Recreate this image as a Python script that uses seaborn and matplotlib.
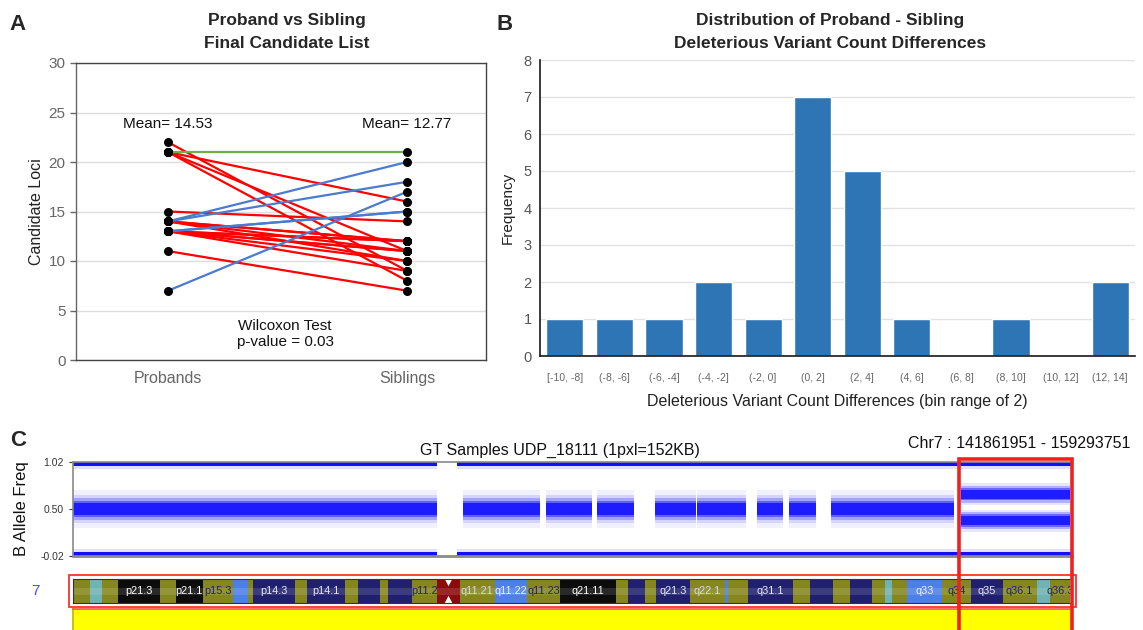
import numpy as np
import pandas as pd
import matplotlib
matplotlib.use("Agg")
import matplotlib.pyplot as plt
import seaborn as sns
from matplotlib.patches import Rectangle
from matplotlib.transforms import blended_transform_factory

# ---------------- data ----------------
# Panel A: proband vs sibling candidate loci (paired)
proband_counts = [22, 21, 21, 21, 21, 15, 14, 14, 14, 14, 14, 14,
                  13, 13, 13, 13, 13, 13, 13, 13, 11, 7]
sibling_counts = [9, 8, 11, 16, 21, 14, 20, 18, 12, 12, 11, 10,
                  15, 15, 12, 12, 11, 11, 10, 9, 7, 17]
group_labels = ["Probands", "Siblings"]
mean_labels = ["Mean= 14.53", "Mean= 12.77"]

# Panel B: histogram of differences
bin_labels = ["[-10, -8]", "(-8, -6]", "(-6, -4]", "(-4, -2]", "(-2, 0]", "(0, 2]",
              "(2, 4]", "(4, 6]", "(6, 8]", "(8, 10]", "(10, 12]", "(12, 14]"]
bin_counts = [1, 1, 1, 2, 1, 7, 5, 1, 0, 1, 0, 2]

# Panel C: B allele frequency tracks on chr7 (Mb)
chrom_len = 159.35
hom_starts = [0.0, 61.3]
hom_ends = [58.0, 159.3]
het_starts = [0.0, 62.2, 75.4, 83.6, 92.8, 99.5, 109.1, 114.2, 120.9]
het_ends = [58.0, 74.5, 82.8, 89.5, 99.3, 107.3, 113.2, 118.5, 140.6]
het_level = 0.5
split_start, split_end = 141.6, 159.1
split_levels = [0.665, 0.37]
region_start, region_end = 141.861951, 159.293751

# chr7 ideogram bands
band_starts = [0.0, 2.7, 4.6, 7.2, 13.9, 16.4, 20.7, 25.5, 27.9, 28.7, 35.4, 37.3, 43.4,
               45.4, 49.0, 50.2, 54.1, 58.0, 61.7, 67.3, 72.4, 77.7, 86.6, 88.5, 91.2,
               93.0, 98.4, 104.0, 104.4, 107.6, 114.8, 117.5, 121.2, 123.9, 127.4, 129.5,
               130.6, 133.0, 138.6, 143.3, 148.3, 153.7, 155.8]
band_ends = band_starts[1:] + [159.0]
band_stains = ["ol", "te", "ol", "bk", "ol", "bk", "ol", "lb", "ol", "nv", "ol", "nv", "ol",
               "nv", "ol", "nv", "ol", "ac", "ol", "lb", "ol", "bk", "ol", "nv", "ol",
               "nv", "ol", "lb", "ol", "nv", "ol", "nv", "ol", "nv", "ol", "te",
               "ol", "lb", "ol", "nv", "ol", "te", "ol"]
band_names = ["", "", "", "p21.3", "", "p21.1", "p15.3", "", "", "p14.3", "", "p14.1", "",
              "", "", "", "p11.2", "", "q11.21", "q11.22", "q11.23", "q21.11", "", "", "",
              "q21.3", "q22.1", "", "", "q31.1", "", "", "", "", "", "",
              "", "q33", "q34", "q35", "q36.1", "", "q36.3"]
centromere = 59.9

# ---------------- styling ----------------
sns.set_theme(style="white")
plt.rcParams["font.family"] = ["Liberation Sans", "DejaVu Sans"]

W, H = 1143, 630
fig = plt.figure(figsize=(W / 100, H / 100), dpi=100)


def rect(l, t, r, b):
    return [l / W, 1 - b / H, (r - l) / W, (b - t) / H]


def ftext(x, y, s, **kw):
    fig.text(x / W, 1 - y / H, s, **kw)


RED, BLUE, GREEN = "#FF0000", "#4A7BD0", "#70AD47"

# ---------------- Panel A ----------------
axA = fig.add_axes(rect(76, 63, 486, 360))
rows = []
for i, (p, s) in enumerate(zip(proband_counts, sibling_counts)):
    d = "up" if s > p else ("same" if s == p else "down")
    rows.append(dict(pair=i, pos=0, val=p, change=d))
    rows.append(dict(pair=i, pos=1, val=s, change=d))
dfA = pd.DataFrame(rows)
sns.lineplot(data=dfA, x="pos", y="val", units="pair", estimator=None, hue="change",
             palette={"down": RED, "up": BLUE, "same": GREEN},
             hue_order=["down", "up", "same"], lw=1.6, legend=False, ax=axA, zorder=2)
sns.scatterplot(data=dfA, x="pos", y="val", color="black", s=42, edgecolor="black",
                linewidth=0, ax=axA, zorder=3, legend=False)
axA.set_xlim(-0.385, 1.33)
axA.set_ylim(0, 30)
axA.set_yticks(range(0, 31, 5))
axA.set_xticks([0, 1])
axA.set_xticklabels(group_labels)
axA.yaxis.grid(True, color="#DDDDDD", lw=1)
axA.set_axisbelow(True)
for sp in axA.spines.values():
    sp.set_color("#444444")
    sp.set_linewidth(1.0)
axA.spines["left"].set_color("#666666")
axA.tick_params(axis="y", labelsize=11, colors="#666666", length=4, left=True, width=1)
axA.tick_params(axis="x", labelsize=11.5, colors="#666666", length=0, pad=8)
axA.set_xlabel("")
axA.set_ylabel("Candidate Loci", fontsize=11.5, color="#222222", labelpad=3)
axA.text(0, 23.8, mean_labels[0], ha="center", va="center", fontsize=11, color="#111111")
axA.text(1, 23.8, mean_labels[1], ha="center", va="center", fontsize=11, color="#111111")
axA.text(0.49, 2.6, "Wilcoxon Test\np-value = 0.03", ha="center", va="center",
         fontsize=11, color="#111111", linespacing=1.15)
ftext(287, 21, "Proband vs Sibling", ha="center", va="center", fontsize=12.5, fontweight="bold")
ftext(287, 44, "Final Candidate List", ha="center", va="center", fontsize=12.5, fontweight="bold")
ftext(18, 24, "A", ha="center", va="center", fontsize=16, fontweight="bold")

# ---------------- Panel B ----------------
axB = fig.add_axes(rect(540, 60, 1135, 356))
dfB = pd.DataFrame(dict(bin=bin_labels, count=bin_counts))
sns.barplot(data=dfB, x="bin", y="count", color="#2E75B6", saturation=1, width=0.75,
            ax=axB, zorder=2)
axB.set_ylim(0, 8)
axB.set_yticks(range(0, 9))
axB.yaxis.grid(True, color="#E2E2E2", lw=1)
axB.set_axisbelow(True)
for side in ["top", "right"]:
    axB.spines[side].set_visible(False)
axB.spines["left"].set_color("#222222")
axB.spines["bottom"].set_color("#222222")
axB.tick_params(axis="y", labelsize=10.5, colors="#555555", length=0, pad=6)
axB.tick_params(axis="x", labelsize=7.5, colors="#666666", length=0, pad=12)
axB.set_xlabel("Deleterious Variant Count Differences (bin range of 2)", fontsize=11.5,
               color="#222222", labelpad=8)
axB.set_ylabel("Frequency", fontsize=11, color="#222222", labelpad=6)
ftext(830, 21, "Distribution of Proband - Sibling", ha="center", va="center",
      fontsize=12.5, fontweight="bold")
ftext(830, 44, "Deleterious Variant Count Differences", ha="center", va="center",
      fontsize=12.5, fontweight="bold")
ftext(505, 24, "B", ha="center", va="center", fontsize=16, fontweight="bold")

# ---------------- Panel C: BAF ----------------
axC = fig.add_axes(rect(73, 462, 1072, 556))
BAF = "#1010FF"


def band(ax, s, e, lvl, widths, alphas):
    for w, a in zip(widths, alphas):
        ax.fill_between([s, e], lvl - w, lvl + w, color=BAF, alpha=a, lw=0)


het_w = [0.21, 0.16, 0.12, 0.09, 0.065]
het_a = [0.06, 0.12, 0.25, 0.45, 0.85]
split_w = [0.12, 0.095, 0.07, 0.05]
split_a = [0.10, 0.25, 0.45, 0.85]
for s, e in zip(hom_starts, hom_ends):
    axC.fill_between([s, e], 0.975, 1.02, color=BAF, lw=0)
    axC.fill_between([s, e], 0.945, 0.975, color=BAF, alpha=0.12, lw=0)
    axC.fill_between([s, e], -0.02, 0.025, color=BAF, lw=0)
    axC.fill_between([s, e], 0.025, 0.06, color=BAF, alpha=0.12, lw=0)
for s, e in zip(het_starts, het_ends):
    band(axC, s, e, het_level, het_w, het_a)
for lvl in split_levels:
    band(axC, split_start, split_end, lvl, split_w, split_a)
axC.set_xlim(0, chrom_len)
axC.set_ylim(-0.02, 1.02)
axC.set_yticks([-0.02, 0.5, 1.02])
axC.set_yticklabels(["-0.02", "0.50", "1.02"])
axC.set_xticks([])
axC.tick_params(axis="y", labelsize=7.5, colors="#333333", length=3, left=True, width=0.8)
for sp in axC.spines.values():
    sp.set_color("#8A8A8A")
    sp.set_linewidth(1.2)
axC.spines["bottom"].set_linewidth(2.0)
axC.set_ylabel("B Allele Freq", fontsize=12, color="#111111", labelpad=8)
ftext(560, 450, "GT Samples UDP_18111 (1pxl=152KB)", ha="center", va="center",
      fontsize=11.5, color="#111111")
ftext(1130, 443, "Chr7 : %d - %d" % (round(region_start * 1e6), round(region_end * 1e6)),
      ha="right", va="center", fontsize=11.5, color="#111111")
ftext(18, 440, "C", ha="center", va="center", fontsize=16, fontweight="bold")

# ---------------- ideogram ----------------
stain_col = {"ol": "#86861E", "te": "#6FB3B3", "bk": "#0C0C0C", "nv": "#20206E",
             "lb": "#4D80E6", "ac": "#8B0A0A"}
label_col = {"ol": "#20206E", "te": "#20206E", "bk": "#FFFFFF", "nv": "#E8E8F8",
             "lb": "#F0F0FF", "ac": "#FFFFFF"}
axI = fig.add_axes(rect(73, 579, 1072, 603))
for s, e, st, nm in zip(band_starts, band_ends, band_stains, band_names):
    axI.barh(0.5, e - s, left=s, height=1.0, color=stain_col[st], lw=0)
    if nm:
        c = label_col[st]
        if nm in ("q11.21", "q22.1"):
            c = "#D8D8F0"
        axI.text((s + e) / 2, 0.48, nm, ha="center", va="center", fontsize=7.8,
                 color=c, clip_on=True)
axI.axhspan(0.35, 0.62, color="white", alpha=0.12, lw=0)
axI.fill([centromere - 0.6, centromere + 0.6, centromere], [1.0, 1.0, 0.7], color="white", lw=0)
axI.fill([centromere - 0.6, centromere + 0.6, centromere], [0.0, 0.0, 0.3], color="white", lw=0)
axI.set_xlim(0, chrom_len)
axI.set_ylim(0, 1)
axI.set_xticks([])
axI.set_yticks([])
for sp in axI.spines.values():
    sp.set_color("#333333")
    sp.set_linewidth(0.8)
axI.add_patch(Rectangle((-0.004, -0.17), 1.008, 1.32, transform=axI.transAxes,
                        fill=False, ec="#FF3030", lw=1.3, clip_on=False))
ftext(35, 591, "7", ha="center", va="center", fontsize=11, color="#4A4AFF")

# ---------------- yellow track ----------------
axY = fig.add_axes(rect(73, 609, 1072, 632))
axY.set_facecolor("#FFFF00")
axY.set_xlim(0, chrom_len)
axY.set_xticks([])
axY.set_yticks([])
for side in ["left", "right", "bottom"]:
    axY.spines[side].set_color("#BBBB00")
axY.spines["top"].set_color("#FF5050")
axY.spines["top"].set_linewidth(1.2)

# ---------------- highlighted region ----------------
tr = blended_transform_factory(axC.transData, fig.transFigure)
fig.add_artist(Rectangle((region_start - 0.6, -0.02), region_end - region_start + 0.6,
                         1 - 459 / H + 0.02,
                         transform=tr, fill=False, ec="#EE2222", lw=2.6, clip_on=False))

fig.savefig("out.png", dpi=100)
